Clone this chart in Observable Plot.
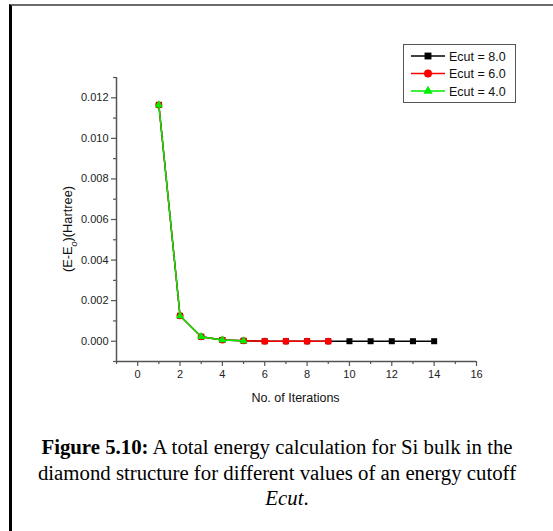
<!DOCTYPE html>
<html>
<head>
<meta charset="utf-8">
<script src="https://cdn.jsdelivr.net/npm/d3@7"></script>
<script src="https://cdn.jsdelivr.net/npm/@observablehq/plot@0.6"></script>
<style>
  html, body { margin: 0; padding: 0; background: #fff; }
  #wrap { position: relative; width: 553px; height: 531px; overflow: hidden; background: #fff; }
  #frame { position: absolute; left: 9px; top: 4px; width: 560px; height: 540px;
           border-top: 2px solid #6a6a6a; border-left: 3px solid #000; box-sizing: border-box; }
  #chart { position: absolute; left: 0; top: 0; }
  #legend { position: absolute; left: 403px; top: 44px; width: 113px; height: 59px;
            border: 1px solid #555; box-sizing: border-box; background: #fff; }
  #caption { position: absolute; left: 0px; top: 434px; width: 554px; text-align: center;
             font-family: "Liberation Serif", "Times New Roman", serif; font-size: 20.8px;
             line-height: 25.5px; color: #000; }
</style>
</head>
<body>
<div id="wrap">
  <div id="frame"></div>
  <div id="chart"></div>
  <div id="legend"></div>
  <div id="caption"><b>Figure 5.10:</b> A total energy calculation for Si bulk in the<br>diamond structure for different values of an energy cutoff<br><span style="position:relative;left:10px"><i>Ecut</i>.</span></div>
</div>
<script>
// ---- data ----
const iterEcut8 = [1, 2, 3, 4, 5, 6, 7, 8, 9, 10, 11, 12, 13, 14];
const energyEcut8 = [0.01165, 0.00125, 0.00022, 0.00006, 0.00002, 0, 0, 0, 0, 0, 0, 0, 0, 0];
const iterEcut6 = [1, 2, 3, 4, 5, 6, 7, 8, 9];
const energyEcut6 = [0.01165, 0.00125, 0.00022, 0.00006, 0.00002, 0, 0, 0, 0];
const iterEcut4 = [1, 2, 3, 4, 5];
const energyEcut4 = [0.01165, 0.00125, 0.00022, 0.00006, 0.00002];

const seriesNames = ["Ecut = 8.0", "Ecut = 6.0", "Ecut = 4.0"];
const seriesColors = ["#000000", "#ff0000", "#00ee00"];
const seriesSymbols = ["square", "circle", "triangle"];

const xTicks = [0, 2, 4, 6, 8, 10, 12, 14, 16];
const xMinorTicks = [-1, 1, 3, 5, 7, 9, 11, 13, 15];
const yTicks = [0.000, 0.002, 0.004, 0.006, 0.008, 0.010, 0.012];
const yMinorTicks = [-0.001, 0.001, 0.003, 0.005, 0.007, 0.009, 0.011, 0.013];
const xLabel = "No. of Iterations";

const toRows = (xs, ys) => xs.map((x, i) => ({x, y: ys[i]}));
const d8 = toRows(iterEcut8, energyEcut8);
const d6 = toRows(iterEcut6, energyEcut6);
const d4 = toRows(iterEcut4, energyEcut4);
const sets = [d8, d6, d4];
const radii = [3.4, 3.5, 3.0];

const axisStroke = "#555";
const marks = [
  Plot.axisY({ticks: yTicks, tickSize: 5, tickPadding: 3, tickFormat: d3.format(".3f"),
              label: null, stroke: axisStroke, strokeWidth: 1.2, fill: "#222"}),
  Plot.axisY({ticks: yMinorTicks, tickSize: 3, text: null, label: null, stroke: axisStroke, strokeWidth: 1.2}),
  Plot.axisX({ticks: xTicks, tickSize: 5, tickPadding: 4, label: null, stroke: axisStroke, strokeWidth: 1.2, fill: "#222"}),
  Plot.axisX({ticks: xMinorTicks, tickSize: 3, text: null, label: null, stroke: axisStroke, strokeWidth: 1.2}),
  Plot.ruleX([xMinorTicks[0]], {stroke: axisStroke, strokeWidth: 1.5}),
  Plot.ruleY([yMinorTicks[0]], {stroke: axisStroke, strokeWidth: 1.5})
];
sets.forEach((d, i) => {
  marks.push(Plot.line(d, {x: "x", y: "y", stroke: seriesColors[i], strokeWidth: 1.4}));
  marks.push(Plot.dot(d, {x: "x", y: "y", symbol: seriesSymbols[i], fill: seriesColors[i], stroke: "none", r: radii[i]}));
});

const chart = Plot.plot({
  width: 553, height: 420,
  marginTop: 77, marginLeft: 116, marginRight: 77, marginBottom: 59,
  x: {domain: [-1, 16]},
  y: {domain: [-0.001, 0.013]},
  style: {fontFamily: "'Liberation Sans', Arial, sans-serif", fontSize: "11px", color: "#222", background: "transparent"},
  marks
});
document.getElementById("chart").appendChild(chart);

const svg = d3.select(chart);
// enlarge tick labels
svg.selectAll("text").style("font-size", "11px");

// axis titles
svg.append("text")
  .attr("x", 295.5).attr("y", 402)
  .attr("text-anchor", "middle")
  .style("font-family", "'Liberation Sans', Arial, sans-serif")
  .style("font-size", "12.5px").attr("fill", "#111")
  .text(xLabel);
const yl = svg.append("text")
  .attr("transform", "translate(72,229) rotate(-90)")
  .attr("text-anchor", "middle")
  .style("font-family", "'Liberation Sans', Arial, sans-serif")
  .style("font-size", "12.8px").attr("fill", "#111");
yl.append("tspan").text("(E-E");
yl.append("tspan").attr("baseline-shift", "sub").style("font-size", "9px").style("font-style", "italic").text("o");
yl.append("tspan").text(")(Hartree)");

// legend
const lg = d3.select("#legend").append("svg").attr("width", 111).attr("height", 57)
  .style("position", "absolute").style("left", "0px").style("top", "0px");
seriesNames.forEach((name, i) => {
  const cy = 11 + i * 17.5;
  lg.append("line").attr("x1", 7).attr("x2", 41).attr("y1", cy).attr("y2", cy)
    .attr("stroke", seriesColors[i]).attr("stroke-width", 1.4);
  lg.append("path").attr("transform", `translate(24,${cy})`)
    .attr("d", d3.symbol(i === 0 ? d3.symbolSquare : i === 1 ? d3.symbolCircle : d3.symbolTriangle, Math.PI * radii[i] * radii[i] * 1.3)())
    .attr("fill", seriesColors[i]);
  lg.append("text").attr("x", 45).attr("y", cy + 4.5)
    .style("font-family", "'Liberation Sans', Arial, sans-serif").style("font-size", "12.5px")
    .attr("fill", "#111").text(name);
});
</script>
</body>
</html>
